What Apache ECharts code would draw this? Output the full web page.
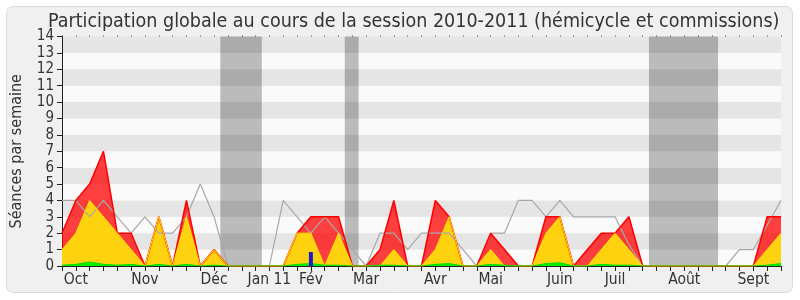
<!DOCTYPE html>
<html>
<head>
<meta charset="utf-8">
<script src="https://cdn.jsdelivr.net/npm/echarts@6/dist/echarts.min.js"></script>
<style>
html, body { margin: 0; padding: 0; background: #fff; }
#chart { width: 800px; height: 300px; }
</style>
</head>
<body>
<div id="chart"></div>
<script>
// semaines 0..52 (fin sept 2010 -> fin sept 2011)
const monthNames = ['Oct', 'Nov', 'Déc', 'Jan 11', 'Fév', 'Mar', 'Avr', 'Mai', 'Juin', 'Juil', 'Août', 'Sept']
const monthWeeks = [1, 6, 11, 15, 18, 22, 27, 31, 36, 40, 45, 50]
const yTicks = [0, 1, 2, 3, 4, 5, 6, 7, 8, 9, 10, 11, 12, 13, 14]

// vacances parlementaires (en semaines)
const vacances = [[11.45, 14.45], [20.45, 21.45], [42.45, 47.45]]

// présence totale (rouge)
const presence = [2, 4, 5, 7, 2, 2, 0, 3, 0, 4, 0, 1, 0, 0, 0, 0, 0, 2, 3, 3, 3, 0, 0, 1, 4, 0, 0, 4, 3, 0, 0, 2, 1, 0, 0, 3, 3, 0, 1, 2, 2, 3, 0, 0, 0, 0, 0, 0, 0, 0, 0, 3, 3]
// commissions (jaune)
const commissions = [1, 2, 4, 3, 2, 1, 0, 3, 0, 3, 0, 1, 0, 0, 0, 0, 0, 2, 2, 0, 2, 0, 0, 0, 1, 0, 0, 1, 3, 0, 0, 1, 0, 0, 0, 2, 3, 0, 0, 1, 2, 1, 0, 0, 0, 0, 0, 0, 0, 0, 0, 1, 2]
// interventions (vert)
const interventions = [0.05, 0.1, 0.25, 0.1, 0.05, 0.1, 0, 0.1, 0, 0.1, 0, 0.05, 0, 0, 0, 0, 0, 0.1, 0.15, 0.05, 0.05, 0, 0, 0.05, 0.05, 0, 0, 0.1, 0.15, 0, 0, 0.1, 0.05, 0, 0, 0.15, 0.2, 0, 0, 0.1, 0.05, 0.05, 0, 0, 0, 0, 0, 0, 0, 0, 0, 0.05, 0.15]
// questions (bleu)
const questions = [0, 0, 0, 0, 0, 0, 0, 0, 0, 0, 0, 0, 0, 0, 0, 0, 0, 0, 0.85, 0, 0, 0, 0, 0, 0, 0, 0, 0, 0, 0, 0, 0, 0, 0, 0, 0, 0, 0, 0, 0, 0, 0, 0, 0, 0, 0, 0, 0, 0, 0, 0, 0, 0]
// médiane des députés (gris)
const mediane = [4, 4, 3, 4, 3, 2, 3, 2, 2, 3, 5, 3, 0, 0, 0, 0, 4, 3, 2, 3, 2, 1, 0, 2, 2, 1, 2, 2, 2, 1, 0, 2, 2, 4, 4, 3, 4, 3, 3, 3, 3, 1.3, 0, 0, 0, 0, 0, 0, 0, 1, 1, 2.5, 4]

const toXY = arr => arr.map((v, i) => [i, v])
const font = "'DejaVu Sans Condensed', 'DejaVu Sans', sans-serif"

const chart = echarts.init(document.getElementById('chart'))
const option = {
    animation: false,
    backgroundColor: '#fff',
    graphic: [{
        type: 'rect',
        z: -10,
        shape: { x: 6.5, y: 6.5, width: 786, height: 286, r: 6 },
        style: { fill: '#f0f0f0', stroke: '#dcdcdc', lineWidth: 1 }
    }],
    title: {
        text: 'Participation globale au cours de la session 2010-2011 (hémicycle et commissions)',
        left: 43,
        top: 7,
        textStyle: { fontFamily: font, fontSize: 19.5, fontWeight: 'normal', color: '#333' }
    },
    grid: { left: 62, right: 19, top: 36.5, bottom: 34 },
    xAxis: [{
        type: 'value',
        min: 0, max: 52, interval: 1,
        axisLine: { show: true, lineStyle: { color: '#222' } },
        axisTick: { show: true, length: 5, lineStyle: { color: '#222' } },
        splitLine: { show: false },
        axisLabel: {
            fontFamily: font, fontSize: 15.5, color: '#333', margin: 6,
            formatter: v => {
                const k = monthWeeks.indexOf(v)
                return k >= 0 ? monthNames[k] : ''
            }
        }
    }, {
        type: 'value',
        position: 'top',
        min: 0, max: 52, interval: 1,
        axisLine: { show: false },
        axisTick: { show: true, length: 1, lineStyle: { color: '#444' } },
        axisLabel: { show: false },
        splitLine: { show: false }
    }],
    yAxis: {
        type: 'value',
        min: yTicks[0], max: yTicks[yTicks.length - 1], interval: 1,
        name: 'Séances par semaine',
        nameLocation: 'middle',
        nameGap: 37,
        nameTextStyle: { fontFamily: font, fontSize: 16, color: '#333' },
        axisLine: { show: true, lineStyle: { color: '#222' } },
        axisTick: { show: true, length: 5, lineStyle: { color: '#222' } },
        axisLabel: { fontFamily: font, fontSize: 15, color: '#333', margin: 8 },
        splitLine: { show: false },
        splitArea: { show: true, areaStyle: { color: ['#fafafa', '#e5e5e5'] } }
    },
    series: [{
        name: 'vacances',
        type: 'line',
        data: [],
        markArea: {
            silent: true,
            itemStyle: { color: 'rgba(0,0,0,0.25)' },
            data: vacances.map(v => [{ xAxis: v[0] }, { xAxis: v[1] }])
        }
    }, {
        name: 'médiane',
        type: 'line',
        data: toXY(mediane),
        symbol: 'none',
        lineStyle: { color: '#a8a8a8', width: 1.2 }
    }, {
        name: 'présence',
        type: 'line',
        data: toXY(presence),
        symbol: 'none',
        lineStyle: { color: '#ff0000', width: 1.5 },
        areaStyle: { color: 'rgba(255,0,0,0.75)', opacity: 1 }
    }, {
        name: 'commissions',
        type: 'line',
        data: toXY(commissions),
        symbol: 'none',
        lineStyle: { color: '#ffe400', width: 1 },
        areaStyle: { color: '#ffd20f', opacity: 1 }
    }, {
        name: 'interventions',
        type: 'line',
        data: toXY(interventions),
        symbol: 'none',
        lineStyle: { color: '#00dd00', width: 1 },
        areaStyle: { color: '#00ee00', opacity: 1 }
    }, {
        name: 'questions',
        type: 'bar',
        z: 10,
        data: toXY(questions),
        barWidth: 4,
        itemStyle: { color: '#1a1ad0' }
    }]
}
chart.setOption(option)
</script>
</body>
</html>
